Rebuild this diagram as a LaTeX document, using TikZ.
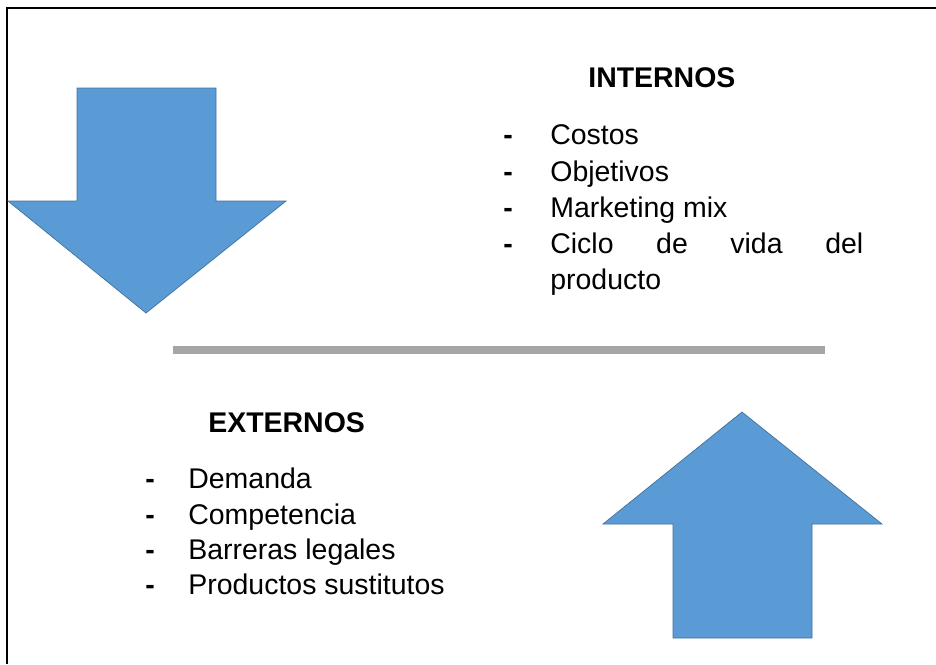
\documentclass[tikz,border=0pt]{standalone}
\usepackage{fontspec}
\setmainfont{Liberation Sans}
\usetikzlibrary{positioning}

\begin{document}
\begin{tikzpicture}[x=0.02cm,y=-0.02cm]
\definecolor{arrowblue}{RGB}{91,155,213}
\definecolor{arrowedge}{RGB}{65,113,156}
\definecolor{rulegray}{RGB}{165,165,165}
\tikzstyle{bigarrow}=[fill=arrowblue,draw=arrowedge,line width=0.4pt]
\tikzstyle{title}=[font=\fontsize{16.2}{20}\selectfont\bfseries,inner sep=0pt,anchor=base west]
\tikzstyle{item}=[font=\fontsize{16.2}{20}\selectfont,inner sep=0pt,anchor=base west]
\tikzstyle{bullet}=[font=\fontsize{16.2}{20}\selectfont\bfseries,inner sep=0pt,anchor=base west]

\useasboundingbox (0,0) rectangle (936,664);

%FRAME
\draw[line width=1.4pt] (7,664) -- (7,8) -- (936,8);

%%%%%%%%%%%%%%%%%%%%%%%%%%%%%%%%%%%%%%%%%%%%%%%%%%%%%%%%%%%%%%%%%%%%%%%%
%arrows
%down
\draw[bigarrow] (77,88) -- (216,88) -- (216,201) -- (286,201) -- (146,313)
  -- (8,201) -- (77,201) -- cycle;
%up
\draw[bigarrow] (742,412) -- (882,524) -- (812,524) -- (812,638)
  -- (673,638) -- (673,524) -- (603,524) -- cycle;

%separator
\draw[rulegray,line width=0.15cm] (173,350) -- (825,350);

%%%%%%%%%%%%%%%%%%%%%%%%%%%%%%%%%%%%%%%%%%%%%%%%%%%%%%%%%%%%%%%%%%%%%%%%
%internos
\node[title] (internos) at (588,87) {INTERNOS};
\node[bullet] (idash1) at (503,144) {-};
\node[bullet] (idash2) at (503,181) {-};
\node[bullet] (idash3) at (503,217) {-};
\node[bullet] (idash4) at (503,253) {-};
\node[item] (costos) at (550,144) {Costos};
\node[item] (objetivos) at (550,181) {Objetivos};
\node[item] (marketing) at (550,217) {Marketing mix};
\node[item] (ciclo) at (550,253) {\makebox[6.26cm][s]{Ciclo de vida del}};
\node[item] (producto) at (550,289) {producto};

%%%%%%%%%%%%%%%%%%%%%%%%%%%%%%%%%%%%%%%%%%%%%%%%%%%%%%%%%%%%%%%%%%%%%%%%
%externos
\node[title] (externos) at (208,432) {EXTERNOS};
\node[bullet] (edash1) at (145,488) {-};
\node[bullet] (edash2) at (145,524) {-};
\node[bullet] (edash3) at (145,559) {-};
\node[bullet] (edash4) at (145,594) {-};
\node[item] (demanda) at (188,488) {Demanda};
\node[item] (competencia) at (188,524) {Competencia};
\node[item] (barreras) at (188,559) {Barreras legales};
\node[item] (sustitutos) at (188,594) {Productos sustitutos};

\end{tikzpicture}
\end{document}
